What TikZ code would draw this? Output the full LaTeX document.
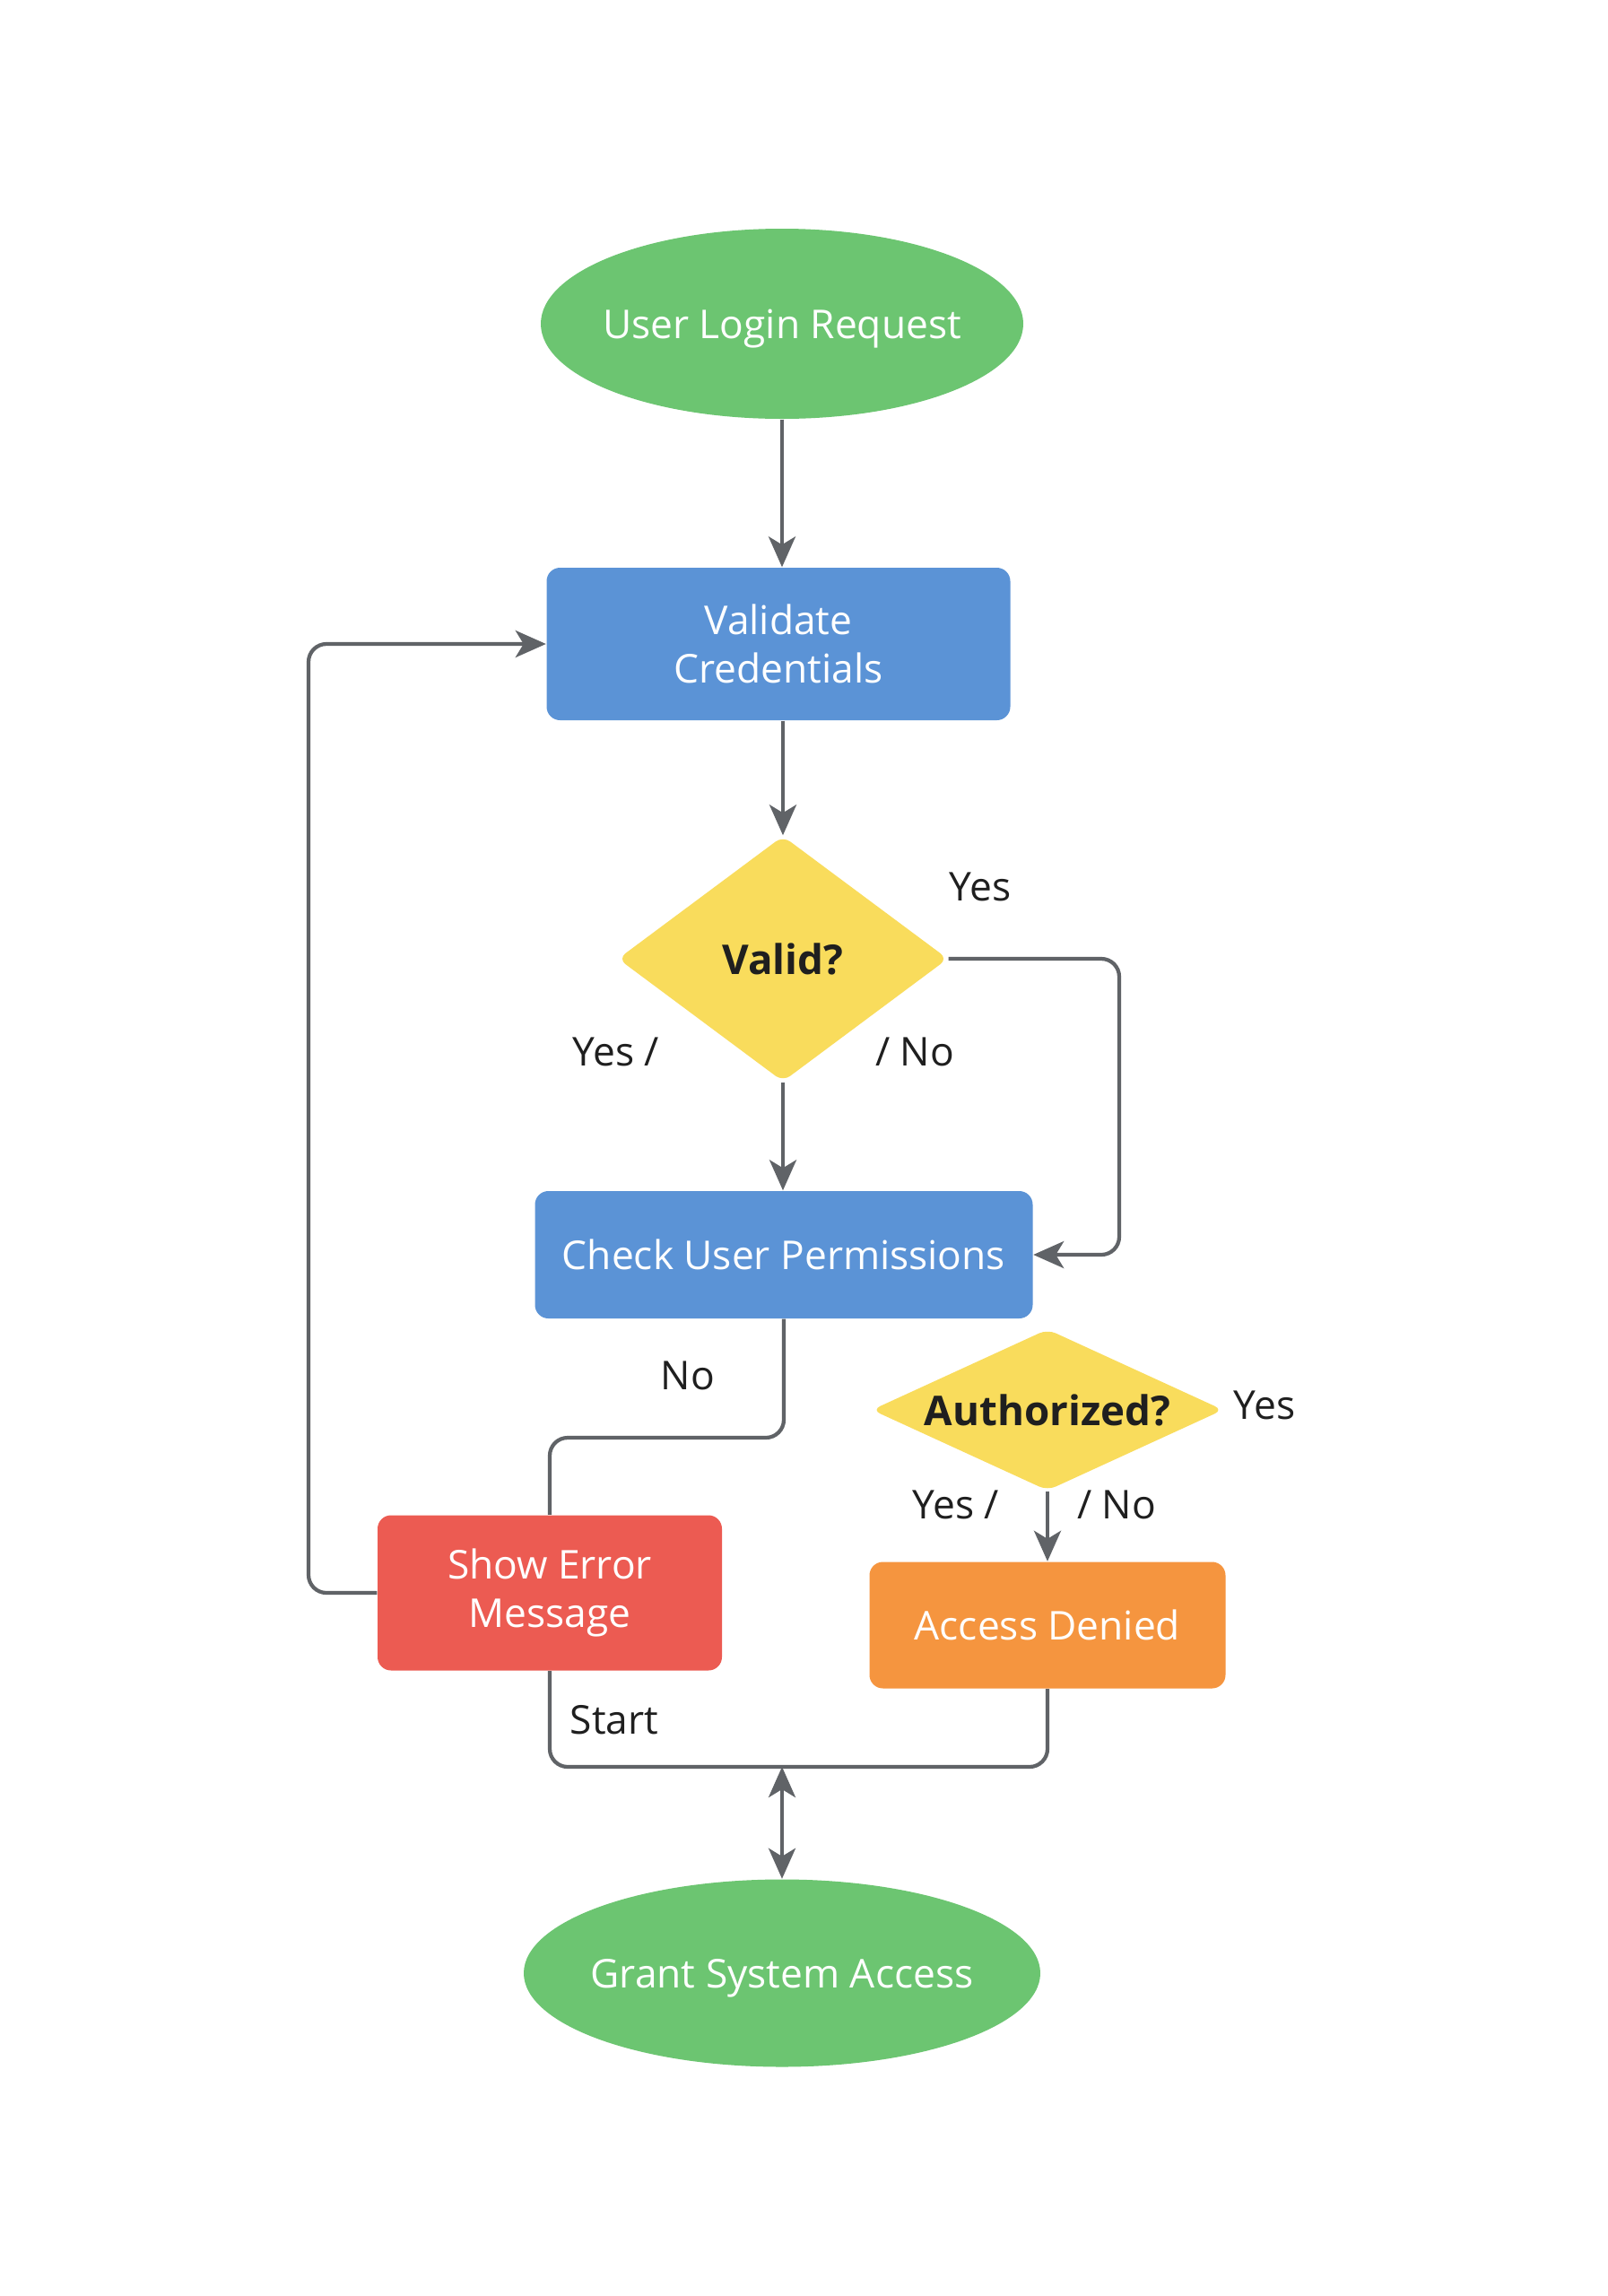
\documentclass[tikz,border=0pt]{standalone}
\usepackage{fontspec}
\setmainfont{Open Sans}
\usepackage{tikz}
\usetikzlibrary{arrows.meta,shapes.geometric}
\definecolor{termgreen}{HTML}{6CC571}
\definecolor{procblue}{HTML}{5B93D6}
\definecolor{decyellow}{HTML}{F9DC5C}
\definecolor{errred}{HTML}{EC5B52}
\definecolor{denyorange}{HTML}{F5953F}
\definecolor{linegray}{HTML}{606367}
\definecolor{labeltext}{HTML}{1F1F1F}

\begin{document}
\begin{tikzpicture}[
    every node/.style={font=\fontsize{12.6}{15.5}\selectfont},
    term/.style={ellipse, fill=termgreen, text=white, inner ysep=0pt, inner xsep=-4mm, text depth=0pt},
    proc/.style={rectangle, rounded corners=1.5mm, text=white, align=center, inner sep=0pt},
    dec/.style={diamond, fill=decyellow, text=labeltext, inner sep=0pt, rounded corners=1mm,
                font=\fontsize{13}{15}\selectfont\bfseries},
    lbl/.style={text=labeltext},
    conn/.style={draw=linegray, line width=1.2pt, rounded corners=2mm},
    arr/.style={conn, -{Stealth[length=3.4mm, width=3mm, inset=.9mm]}}
  ]
    \useasboundingbox[fill=white] (0,0) rectangle (17.92,-25.6);

    % shapes
    \node[term, minimum width=5.38cm, minimum height=2.12cm] (login) at (8.72,-3.61) {User Login Request};
    \node[proc, fill=procblue, minimum width=5.17cm, minimum height=1.70cm] (validate) at (8.68,-7.18) {Validate\\Credentials};
    \node[dec, shape aspect=1.34, minimum width=3.68cm, minimum height=2.74cm] (valid) at (8.73,-10.69) {Valid?};
    \node[proc, fill=procblue, minimum width=5.55cm, minimum height=1.42cm] (check) at (8.74,-13.99) {Check User Permissions};
    \node[dec, shape aspect=2.2, minimum width=3.92cm, minimum height=1.80cm] (auth) at (11.68,-15.72) {Authorized?};
    \node[proc, fill=errred, minimum width=3.84cm, minimum height=1.73cm] (error) at (6.13,-17.76) {Show Error\\Message};
    \node[proc, fill=denyorange, minimum width=3.97cm, minimum height=1.41cm] (denied) at (11.68,-18.12) {Access Denied};
    \node[term, minimum width=5.76cm, minimum height=2.09cm] (grant) at (8.72,-22.00) {Grant System Access};

    \coordinate (bus) at (8.72,-19.70);

    % connectors
    \draw[arr] (login.south) -- (login.south |- validate.north);
    \draw[arr] (validate.south -| valid.north) -- (valid.north);
    \draw[arr] (valid.south) -- (valid.south |- check.north);
    \draw[arr] (valid.east) -| (12.48,-12.5) |- (check.east);
    \draw[arr] (error.west) -| (3.44,-12) |- (validate.west);
    \draw[conn] (check.south) |- (7.5,-16.03) -| (error.north);
    \draw[arr] (auth.south) -- (denied.north);
    \draw[conn] (error.south) |- (bus) -| (denied.south);
    \draw[conn, {Stealth[length=3.4mm, width=3mm, inset=.9mm]}-{Stealth[length=3.4mm, width=3mm, inset=.9mm]}] (bus) -- (bus |- grant.north);

    % labels
    \node[lbl] (yesA) at (10.93,-9.89) {Yes};
    \node[lbl] (yesB) at (6.87,-11.73) {Yes /};
    \node[lbl] (noA) at (10.20,-11.73) {/ No};
    \node[lbl] (noB) at (7.67,-15.34) {No};
    \node[lbl] (yesC) at (14.10,-15.67) {Yes};
    \node[lbl] (yesD) at (10.66,-16.78) {Yes /};
    \node[lbl] (noC) at (12.45,-16.78) {/ No};
    \node[lbl] (start) at (6.85,-19.18) {Start};
\end{tikzpicture}
\end{document}
